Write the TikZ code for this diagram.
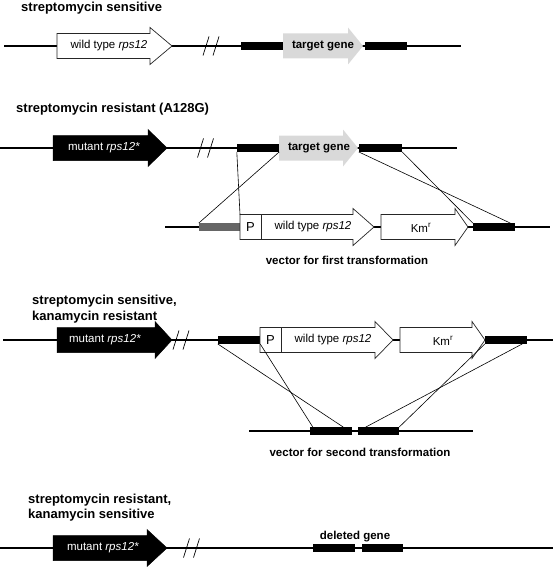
\documentclass[tikz,border=0pt]{standalone}
\usepackage{fontspec}
\setmainfont{Liberation Sans}
\usetikzlibrary{calc}
\tikzset{
  dna/.style={line width=1.2pt, black},
  bar/.style={rectangle, fill=black, inner sep=0pt, minimum height=7.5pt},
  gbar/.style={rectangle, fill=black!60, inner sep=0pt, minimum height=7.5pt},
  whitegene/.style={draw=black!85, line width=0.7pt, fill=white},
  blackgene/.style={fill=black, draw=black, line width=0.5pt},
  greygene/.style={fill=black!15, draw=none},
  cross/.style={line width=0.6pt, black},
  brk/.style={line width=0.7pt, black},
  title/.style={font=\bfseries\fontsize{13}{15}\selectfont, anchor=base west, inner sep=0pt},
  lbl/.style={font=\fontsize{11.5}{13}\selectfont, inner sep=0pt},
  wlbl/.style={lbl, text=white},
  blbl/.style={font=\bfseries\fontsize{11.5}{13}\selectfont, inner sep=0pt},
  plbl/.style={font=\fontsize{13}{15}\selectfont, inner sep=0pt},
}
% #1 style, #2 start x, #3 head start x, #4 tip x, #5 centre y, #6 name
\newcommand{\genearrow}[6]{%
  \path[#1] (#2,#5-12.5) -- (#3,#5-12.5) -- (#3,#5-18.5) -- (#4,#5)
    -- (#3,#5+18.5) -- (#3,#5+12.5) -- (#2,#5+12.5) -- cycle;
  \coordinate (#6) at (#2,#5);
  \coordinate (#6nw) at (#2,#5-12.5);}
% #1 centre x, #2 centre y
\newcommand{\brkmark}[2]{%
  \draw[brk] (#1-8,#2+9.5) -- (#1-2,#2-9.5);
  \draw[brk] (#1+2,#2+9.5) -- (#1+8,#2-9.5);}
\begin{document}
\begin{tikzpicture}[x=1pt, y=-1pt]
\useasboundingbox (0,0) rectangle (553,567);

% ---------- row 1 ----------
\node[title] (h1) at (21,11.5) {streptomycin sensitive};
\draw[dna] (4,46) -- (461,46);
\genearrow{whitegene}{57}{150}{172}{46}{g1w}
\node[lbl] (t1w) at (109,46) {wild type \textit{rps12}};
\brkmark{211}{46}
\node[bar, minimum width=42pt] (r1a) at (262,46) {};
\genearrow{greygene}{283}{348}{363}{46}{g1t}
\node[blbl] (t1t) at (323,46) {target gene};
\node[bar, minimum width=42pt] (r1b) at (386,46) {};

% ---------- row 2 ----------
\node[title] (h2) at (16,113) {streptomycin resistant (A128G)};
\draw[dna] (0,148) -- (457,148);
\genearrow{blackgene}{53}{148}{167}{148}{g2m}
\node[wlbl] (t2m) at (104,148) {mutant \textit{rps12*}};
\brkmark{205.5}{148}
\node[bar, minimum width=42pt] (r2a) at (258,148) {};
\genearrow{greygene}{279}{343}{358}{148}{g2t}
\node[blbl] (t2t) at (319,148) {target gene};
\node[bar, minimum width=43pt] (r2b) at (380.5,148) {};

% ---------- vector 1 ----------
\draw[dna] (165,227) -- (550,227);
\node[gbar, minimum width=41pt] (v1g) at (219.5,227) {};
\genearrow{whitegene}{240}{353}{374}{227}{v1w}
\draw[whitegene] (261,214.5) -- (261,239.5);
\node[plbl] (v1p) at (250.5,227) {P};
\node[lbl] (v1wt) at (313,227) {wild type \textit{rps12}};
\genearrow{whitegene}{381}{455}{468}{227}{v1k}
\node[lbl] (v1kt) at (421,228) {Km\textsuperscript{r}};
\node[bar, minimum width=42pt] (v1b) at (494,227) {};
\node[blbl, anchor=base] (v1t) at (347,264) {vector for first transformation};

\draw[cross] (r2a.south west) -- (v1wnw);
\draw[cross] (r2a.south east) -- (v1g.north west);
\draw[cross] (r2b.south west) -- ($(v1b.north east)+(-5,0)$);
\draw[cross] (r2b.south east) -- (v1b.north west);

% ---------- row 3 ----------
\node[title] (h3a) at (32,304) {streptomycin sensitive,};
\node[title] (h3b) at (32,320) {kanamycin resistant};
\draw[dna] (3,340) -- (553,340);
\genearrow{blackgene}{57}{155}{172}{340}{g3m}
\node[wlbl] (t3m) at (105,340) {mutant \textit{rps12*}};
\brkmark{181}{340}
\node[bar, minimum width=42pt] (r3a) at (239,340) {};
\genearrow{whitegene}{260}{375}{393}{340}{g3w}
\draw[whitegene] (281,327.5) -- (281,352.5);
\node[plbl] (g3p) at (270.5,340) {P};
\node[lbl] (t3w) at (333,340) {wild type \textit{rps12}};
\genearrow{whitegene}{400}{472}{485}{340}{g3k}
\node[lbl] (t3k) at (443,341) {Km\textsuperscript{r}};
\node[bar, minimum width=42pt] (r3b) at (506,340) {};

% ---------- vector 2 ----------
\draw[dna] (249,431) -- (473,431);
\node[bar, minimum width=42pt] (v2a) at (331,431) {};
\node[bar, minimum width=41pt] (v2b) at (378.5,431) {};
\node[blbl, anchor=base] (v2t) at (360,456) {vector for second transformation};

\draw[cross] (r3a.south west) -- ($(v2a.north east)+(-9,0)$);
\draw[cross] (r3a.south east) -- ($(v2a.north west)+(3,0)$);
\draw[cross] (r3b.south west) -- (v2b.north east);
\draw[cross] ($(r3b.south east)+(-5,0)$) -- ($(v2b.north west)+(8,0)$);

% ---------- row 4 ----------
\node[title] (h4a) at (28,503) {streptomycin resistant,};
\node[title] (h4b) at (28,518) {kanamycin sensitive};
\draw[dna] (0,548) -- (553,548);
\genearrow{blackgene}{53}{147}{167}{548}{g4m}
\node[wlbl] (t4m) at (103,548) {mutant \textit{rps12*}};
\brkmark{191.5}{548}
\node[bar, minimum width=42pt] (r4a) at (334,548) {};
\node[bar, minimum width=41pt] (r4b) at (382.5,548) {};
\node[blbl, anchor=base] (dg) at (355,539) {deleted gene};
\end{tikzpicture}
\end{document}
